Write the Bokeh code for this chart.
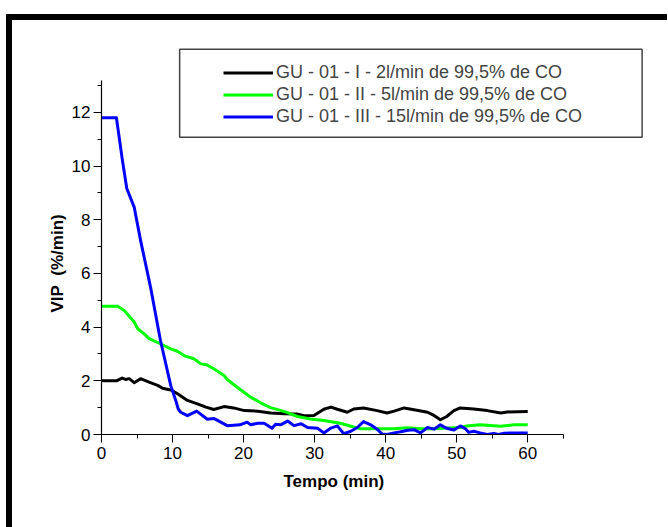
from bokeh.plotting import figure
from bokeh.models import (Range1d, SingleIntervalTicker, Legend, LegendItem, BoxAnnotation, Title)
from bokeh.embed import file_html
from bokeh.resources import INLINE

# ---- data ----
t_black = [0, 2.1, 2.9, 3.4, 3.9, 4.6, 5.5, 6.7, 7.9, 8.6, 9.75, 10.7, 12.1, 13.5, 14.7, 15.8,
           17.25, 18.6, 20.1, 22.0, 23.8, 25.7, 27.6, 28.5, 29.9, 31.3, 32.3, 33.2, 34.6, 35.5,
           36.9, 38.8, 40.2, 41.2, 42.6, 44.0, 45.9, 46.8, 47.7, 48.6, 49.6, 50.5, 52.4, 54.3,
           56.2, 57.1, 60.0]
v_black = [2.0, 2.0, 2.1, 2.05, 2.08, 1.93, 2.08, 1.95, 1.83, 1.72, 1.66, 1.52, 1.27, 1.14, 1.02,
           0.93, 1.04, 0.99, 0.89, 0.87, 0.8, 0.77, 0.76, 0.7, 0.71, 0.94, 1.02, 0.94, 0.83, 0.95,
           0.99, 0.89, 0.8, 0.87, 0.99, 0.92, 0.83, 0.71, 0.55, 0.67, 0.89, 0.99, 0.95, 0.89,
           0.8, 0.84, 0.86]

t_green = [0, 2.25, 3.2, 4.6, 5.1, 6.0, 6.7, 8.3, 9.75, 10.7, 11.6, 13.0, 14.0, 14.8, 15.8,
           17.25, 17.7, 19.1, 21.0, 22.4, 23.8, 25.7, 27.6, 29.4, 31.3, 33.6, 35.5, 36.5, 38.8,
           41.2, 43.1, 44.9, 46.8, 48.6, 50.5, 51.4, 53.3, 56.2, 58.1, 60]
v_green = [4.78, 4.78, 4.62, 4.19, 3.94, 3.75, 3.57, 3.38, 3.19, 3.1, 2.94, 2.82, 2.63, 2.6,
           2.45, 2.2, 2.05, 1.76, 1.39, 1.18, 1.0, 0.86, 0.67, 0.58, 0.52, 0.42, 0.28, 0.21,
           0.21, 0.21, 0.25, 0.21, 0.21, 0.24, 0.26, 0.32, 0.36, 0.31, 0.36, 0.36]

t_blue = [0, 2.1, 2.95, 3.56, 4.6, 5.5, 6.9, 8.3, 9.75, 10.45, 10.8, 11.15, 12.1, 13.4, 14.9,
          15.8, 17.7, 19.5, 20.5, 21.0, 22.0, 22.9, 24.0, 24.5, 25.2, 26.2, 27.1, 28.1, 29.0,
          30.4, 31.3, 32.3, 33.2, 34.1, 35.1, 36.0, 36.9, 37.9, 38.8, 39.5, 40.2, 41.2, 42.1,
          43.1, 44.0, 44.9, 45.9, 46.8, 47.7, 48.6, 49.6, 50.5, 51.2, 51.7, 52.4, 53.3, 54.3,
          55.2, 55.9, 56.7, 60]
v_blue = [11.8, 11.8, 10.2, 9.16, 8.47, 7.23, 5.49, 3.5, 1.82, 1.27, 0.95, 0.83, 0.7, 0.87,
          0.57, 0.6, 0.33, 0.36, 0.46, 0.36, 0.42, 0.42, 0.23, 0.38, 0.36, 0.5, 0.33, 0.4, 0.26,
          0.23, 0.06, 0.24, 0.32, 0.03, 0.12, 0.26, 0.48, 0.36, 0.2, 0.02, 0.0, 0.06, 0.1, 0.16,
          0.18, 0.06, 0.26, 0.2, 0.36, 0.23, 0.17, 0.32, 0.22, 0.08, 0.12, 0.06, 0.0, 0.04, 0.0,
          0.05, 0.06]

labels = ["GU - 01 - I - 2l/min de 99,5% de CO",
          "GU - 01 - II - 5l/min de 99,5% de CO",
          "GU - 01 - III - 15l/min de 99,5% de CO"]
colors = ["#000000", "#00FF00", "#0000FF"]
x_title = "Tempo (min)"
y_title = "VIP\u00a0\u00a0(%/min)"
x_bounds = (0, 65)
y_bounds = (0, 13.2)

FONT = "Liberation Sans"

p = figure(output_backend="svg", toolbar_location=None,
           frame_width=547, frame_height=392,
           x_range=Range1d(0, 77), y_range=Range1d(0, 14.6))
p.min_border_left = 89
p.min_border_right = 19
p.min_border_top = 22
p.min_border_bottom = 93
p.outline_line_color = None
p.background_fill_color = "white"
p.border_fill_color = "white"
p.xgrid.visible = False
p.ygrid.visible = False
p.styles = {"border-top": "6px solid black", "border-left": "6px solid black",
            "margin-top": "14px", "margin-left": "6px"}

# legend box
box = BoxAnnotation(left=11.0, right=76.1, bottom=11.07, top=14.35,
                    fill_color="white", fill_alpha=1.0,
                    line_color="#444444", line_width=1.5, line_alpha=1.0)
p.add_layout(box)

rs = []
for tt, vv, c in [(t_black, v_black, colors[0]), (t_green, v_green, colors[1]),
                  (t_blue, v_blue, colors[2])]:
    rs.append(p.line(tt, vv, line_color=c, line_width=3, line_join="round"))

for ax, b in [(p.xaxis[0], x_bounds), (p.yaxis[0], y_bounds)]:
    ax.bounds = b
    ax.axis_line_color = "black"
    ax.axis_line_width = 1.2
    ax.major_tick_line_color = "black"
    ax.minor_tick_line_color = "black"
    ax.major_tick_in = 0
    ax.major_tick_out = 8
    ax.minor_tick_in = 0
    ax.minor_tick_out = 4
    ax.major_label_text_font = FONT
    ax.major_label_text_font_size = "17px"
    ax.major_label_text_color = "black"

p.xaxis[0].ticker = SingleIntervalTicker(interval=10, num_minor_ticks=2)
p.yaxis[0].ticker = SingleIntervalTicker(interval=2, num_minor_ticks=2)
p.xaxis[0].major_label_standoff = 4
p.yaxis[0].major_label_standoff = 3

# axis titles (left-aligned with an offset so they sit centred under/beside the drawn axes)
p.add_layout(Title(text=x_title, align="left", offset=182, standoff=16,
                   text_font=FONT, text_font_size="17px", text_font_style="bold",
                   text_color="black"), "below")
p.add_layout(Title(text=y_title, align="left", offset=122, standoff=4,
                   text_font=FONT, text_font_size="17px", text_font_style="bold",
                   text_color="black"), "left")

legend = Legend(items=[LegendItem(label=l, renderers=[r]) for l, r in zip(labels, rs)],
                location=(122, 307), padding=0, margin=0, spacing=1,
                glyph_width=50, glyph_height=21, label_height=21, label_standoff=3,
                label_text_font=FONT, label_text_font_size="18px",
                border_line_alpha=0, background_fill_alpha=0)
p.add_layout(legend, "center")

open("out.html", "w").write(file_html(p, INLINE))
